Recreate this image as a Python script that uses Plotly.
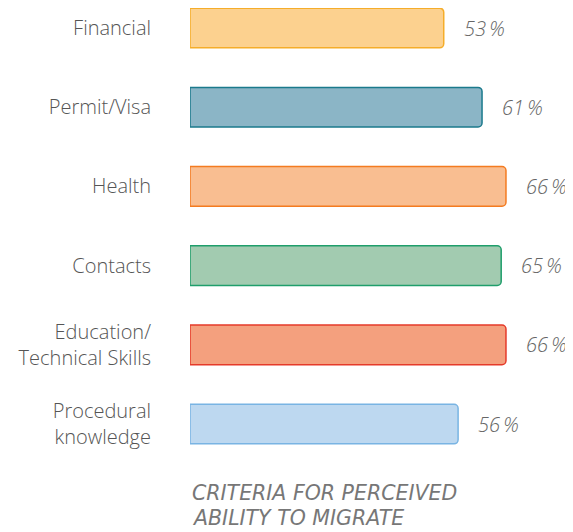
import plotly.graph_objects as go

# data
categories = ['Financial', 'Permit/Visa', 'Health', 'Contacts',
              'Education/<br>Technical Skills', 'Procedural<br>knowledge']
values = [53, 61, 66, 65, 66, 56]
fills = ['#fcd18f', '#8bb5c6', '#f9be91', '#a2cbb0', '#f4a07e', '#bdd8f0']
borders = ['#f5ad2a', '#1b7a8c', '#f47b20', '#1f9e6b', '#e53a2a', '#79b4e3']
caption = ['CRITERIA FOR PERCEIVED', 'ABILITY TO MIGRATE']

fig = go.Figure()
fig.add_trace(go.Bar(
    x=values, y=categories, orientation='h',
    marker=dict(color=fills, line=dict(color=borders, width=1.5), cornerradius=4),
    width=0.5, hoverinfo='skip'
))

# value labels to the right of each bar
for c, v in zip(categories, values):
    fig.add_annotation(
        x=v, y=c, xref='x', yref='y', text=f'{v}\u2009%',
        xanchor='left', xshift=18, showarrow=False,
        font=dict(family='Open Sans', size=20, weight=300, color='#666666', style='italic')
    )

# caption below the chart, one line at a time
for line, yy in zip(caption, [-0.072, -0.128]):
    fig.add_annotation(
        x=0, y=yy, xref='paper', yref='paper', xanchor='left', yanchor='middle',
        xshift=0, text=line, showarrow=False,
        font=dict(family='DejaVu Sans', size=20.5, color='#777777', style='italic')
    )

# page body adds 8px, so the figure is a bit smaller than the window
fig.update_layout(
    width=565, height=524,
    margin=dict(l=182, r=0, t=0, b=72),
    plot_bgcolor='white', paper_bgcolor='white',
    showlegend=False,
    font=dict(family='Open Sans', size=20, weight=300, color='#555555'),
    xaxis=dict(range=[0, 80], visible=False),
    yaxis=dict(range=[5.454, -0.2525], showgrid=False, zeroline=False,
               showline=False, ticks='', ticklabelstandoff=38),
)
fig.write_html('out.html')
